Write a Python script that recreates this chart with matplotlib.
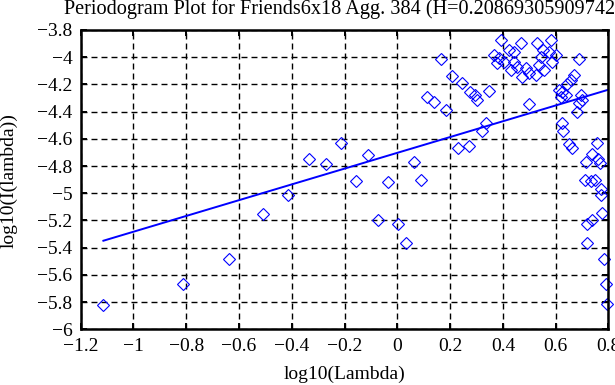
import numpy as np
import matplotlib
matplotlib.use("Agg")
import matplotlib.pyplot as plt
from matplotlib.ticker import FuncFormatter, MultipleLocator

# periodogram points: log10(lambda), log10(I(lambda))
log_lambda = [
    -1.114, -0.813, -0.637, -0.509, -0.413, -0.336, -0.269, -0.212, -0.158, -0.113,
    -0.075, -0.034, 0.002, 0.033, 0.062, 0.090, 0.113, 0.138, 0.166, 0.184,
    0.208, 0.229, 0.246, 0.271, 0.277, 0.296, 0.303, 0.322, 0.334, 0.347,
    0.366, 0.379, 0.385, 0.391, 0.404, 0.423, 0.429, 0.442, 0.442, 0.455,
    0.467, 0.474, 0.486, 0.499, 0.499, 0.524, 0.531, 0.537, 0.543, 0.550,
    0.556, 0.575, 0.581, 0.587, 0.600, 0.613, 0.619, 0.622, 0.625, 0.629,
    0.638, 0.644, 0.650, 0.657, 0.663, 0.669, 0.680, 0.688, 0.688, 0.695,
    0.701, 0.710, 0.715, 0.720, 0.720, 0.733, 0.737, 0.737, 0.748, 0.756,
    0.761, 0.768, 0.771, 0.773, 0.777, 0.783, 0.790, 0.794,
]
log_power = [
    -5.819, -5.670, -5.481, -5.149, -5.011, -4.749, -4.784, -4.627, -4.909, -4.716,
    -5.200, -4.921, -5.224, -5.366, -4.769, -4.902, -4.290, -4.331, -4.015, -4.385,
    -4.136, -4.664, -4.191, -4.652, -4.253, -4.277, -4.314, -4.542, -4.481, -4.246,
    -3.984, -4.045, -4.008, -3.873, -4.033, -3.947, -4.094, -3.959, -4.033, -4.069,
    -3.898, -4.143, -4.081, -4.118, -4.345, -4.130, -3.898, -4.057, -3.996, -3.947,
    -4.094, -3.959, -3.873, -4.033, -3.984, -4.241, -4.290, -4.485, -4.253, -4.542,
    -4.277, -4.199, -4.639, -4.167, -4.664, -4.130, -4.400, -4.015, -4.338, -4.277,
    -4.314, -4.901, -4.767, -5.227, -5.366, -4.913, -4.713, -5.200, -4.901, -4.627,
    -4.749, -4.779, -5.011, -4.970, -5.146, -5.481, -5.667, -5.817,
]

# least squares fit line end points
fit_x = [-1.114, 0.796]
fit_y = [-5.349, -4.241]

title = "Periodogram Plot for Friends6x18 Agg. 384 (H=0.208693059097427)"

plt.rcParams['font.family'] = ['Liberation Serif', 'DejaVu Serif']
plt.rcParams['font.size'] = 14

fig = plt.figure(figsize=(6.15, 3.85), dpi=100)
ax = fig.add_axes([0.1312, 0.1447, 0.8582, 0.7774])

ax.plot(log_lambda, log_power, linestyle='none', marker='D', markersize=6.1,
        markerfacecolor='none', markeredgecolor='#0000ff', markeredgewidth=0.8,
        clip_on=False, zorder=3)
ax.plot(fit_x, fit_y, color='#0000ff', linewidth=1.4, zorder=4)

ax.set_xlim(-1.2, 0.8)
ax.set_ylim(-6, -3.8)
ax.xaxis.set_major_locator(MultipleLocator(0.2))
ax.yaxis.set_major_locator(MultipleLocator(0.2))
fmt = FuncFormatter(lambda v, p: ('%g' % round(v, 6)).replace('-', '\u2212'))
ax.xaxis.set_major_formatter(fmt)
ax.yaxis.set_major_formatter(fmt)

ax.grid(True, color='black', linewidth=1.0, linestyle=(0, (4.3, 2.9)), zorder=1)
ax.tick_params(direction='in', length=4.5, width=1.4, top=True, right=True,
               colors='black', pad=6)
for s in ax.spines.values():
    s.set_linewidth(1.8)
    s.set_zorder(5)

ax.set_xlabel('log10(Lambda)', labelpad=8)
fig.text(0.014, 0.532, 'log10(I(lambda))', rotation=90, ha='center', va='center')
fig.text(64 / 615, 1 - 14 / 385, title, ha='left', va='baseline', fontsize=14.6)

fig.savefig('out.png', dpi=100)
